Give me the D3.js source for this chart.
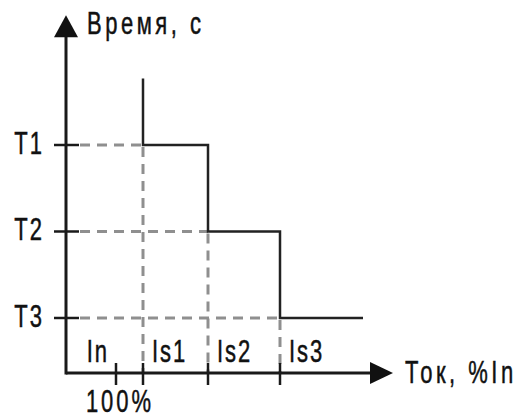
<!DOCTYPE html>
<meta charset="utf-8">
<style>
body { margin: 0; background: #fff; }
text {
  font-family: 'Liberation Sans', Arial, sans-serif;
  font-size: 22px;
  fill: #111;
  stroke: #111;
  stroke-width: 0.35px;
  letter-spacing: 2px;
}
</style>
<body>
<svg width="522" height="419"></svg>
<script src="https://d3js.org/d3.v7.min.js"></script>
<script>

// time settings (relative units) and their labels
var timeLabels = ["T1", "T2", "T3"];
var timeValues = [3, 2, 1];
// current thresholds, % of In
var zoneLabels = ["Is1", "Is2", "Is3"];
var zoneCurrents = [154, 284, 428];
var nominalCurrent = 100;
var tailCurrent = 594;
var stepTop = 3.77;

var svg = d3.select("svg");

var x = d3.scaleLinear().domain([0, 654]).range([66, 393]);
var y = d3.scaleLinear().domain([0.364, 3]).range([373, 145]);
var yTop = 4.5;

var dashed = { stroke: "#8f8f8f", width: 3, dash: "10,7" };

function seg(x1, y1, x2, y2, col, w, dash) {
  svg.append("line")
      .attr("x1", x1).attr("y1", y1).attr("x2", x2).attr("y2", y2)
      .attr("stroke", col).attr("stroke-width", w)
      .attr("stroke-dasharray", dash || null);
}

// dashed guides
timeValues.forEach(function(t, i) {
  seg(x(0) + 14, y(t), x(zoneCurrents[i]), y(t), dashed.stroke, dashed.width, dashed.dash);
  seg(x(zoneCurrents[i]), y(t) + 2, x(zoneCurrents[i]), y.range()[0], dashed.stroke, dashed.width, dashed.dash);
});

// step characteristic
var pts = [[zoneCurrents[0], stepTop]];
timeValues.forEach(function(t, i) {
  pts.push([zoneCurrents[i], t]);
  pts.push([i < timeValues.length - 1 ? zoneCurrents[i + 1] : tailCurrent, t]);
});
svg.append("path")
    .attr("d", d3.line().x(function(d) { return x(d[0]); }).y(function(d) { return y(d[1]); })(pts))
    .attr("fill", "none")
    .attr("stroke", "#222")
    .attr("stroke-width", 2.5);

// axes
var x0 = x(0), y0 = y.range()[0];
seg(x0, y0, x.range()[1] - 20, y0, "#1a1a1a", 3);
seg(x0, y0 + 1.5, x0, y(yTop) + 20, "#1a1a1a", 3);
svg.append("path")
    .attr("d", "M" + x0 + "," + y(yTop) + "L" + (x0 - 12) + "," + (y(yTop) + 22) + "L" + (x0 + 12) + "," + (y(yTop) + 22) + "Z")
    .attr("fill", "#111");
var xe = x.range()[1];
svg.append("path")
    .attr("d", "M" + xe + "," + y0 + "L" + (xe - 23) + "," + (y0 - 11) + "L" + (xe - 23) + "," + (y0 + 11) + "Z")
    .attr("fill", "#111");

// ticks
timeValues.forEach(function(t) { seg(x0 - 12, y(t), x0 + 13, y(t), "#1a1a1a", 2.5); });
[nominalCurrent].concat(zoneCurrents).forEach(function(c) { seg(x(c), y0 - 10, x(c), y0 + 12, "#1a1a1a", 2.5); });

function label(tx, ty, s, anchor, ls) {
  svg.append("text")
      .attr("transform", "translate(" + tx + "," + ty + ") scale(1,1.45)")
      .attr("text-anchor", anchor || "start")
      .style("letter-spacing", ls ? ls + "px" : null)
      .text(s);
}

timeLabels.forEach(function(s, i) { label(x0 - 22, y(timeValues[i]) + 9, s, "end"); });
zoneLabels.forEach(function(s, i) { label(x(zoneCurrents[i]) + 9, y0 - 11, s); });
label(x(nominalCurrent) - 7, y0 - 11, "In", "end");
label(x(nominalCurrent) + 4, y0 + 39, "100%", "middle", 3);
label(x0 + 21, y(yTop) + 19, "Время, с", "start", 3.5);
label(xe + 12, y0 + 10, "Ток, %In", "start", 3.5);

</script>
